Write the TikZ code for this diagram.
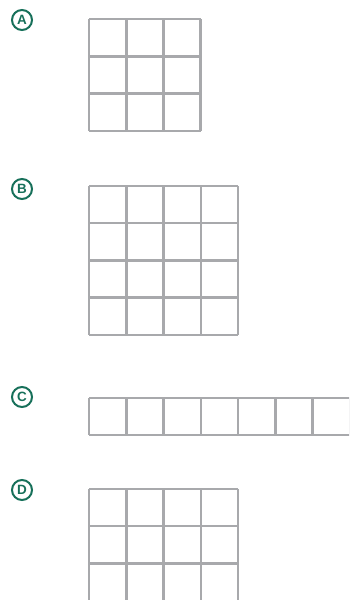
\documentclass[tikz,border=0pt]{standalone}
\usepackage{fontspec}
\setmainfont{Liberation Sans}
\usepackage{tikz}
\definecolor{zold}{HTML}{17705A}
\definecolor{racs}{HTML}{A8A9AC}
\tikzset{
  betu/.style={circle,draw=zold,line width=2bp,text=zold,minimum size=20bp,inner sep=0pt,
    font=\fontsize{13.5}{15}\selectfont\bfseries},
  halo/.style={draw=racs,line width=2.5bp},
}
\newcommand{\cella}{37.25}

\begin{document}
\begin{tikzpicture}[x=1bp,y=1bp]
  \useasboundingbox (0,0) rectangle (349,600);
  \clip (0,0) rectangle (349,600);
  % feliratok
  \node[betu] (lblA) at (22,580) {A};
  \node[betu] (lblB) at (22,411) {B};
  \node[betu] (lblC) at (22,203) {C};
  \node[betu] (lblD) at (22,110) {D};
  % 3x3
  \draw[halo,shift={(89,469)}] (0,0) grid[step=\cella] (3*\cella,3*\cella);
  % 4x4
  \draw[halo,shift={(89,265)}] (0,0) grid[step=\cella] (4*\cella,4*\cella);
  % 1x7
  \draw[halo,shift={(89,165)}] (0,0) grid[step=\cella] (7*\cella,\cella);
  % 4 oszlop, alul levagva
  \draw[halo,shift={(89,111)}] (0,-2.99*\cella) grid[step=\cella] (4*\cella,0);
\end{tikzpicture}
\end{document}
